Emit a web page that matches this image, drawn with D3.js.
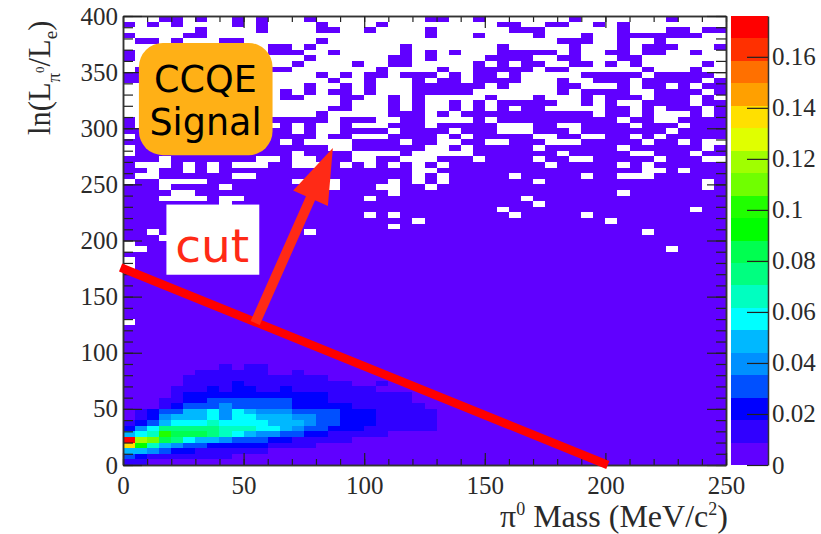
<!DOCTYPE html>
<meta charset="utf-8">
<style>
html, body { margin: 0; background: #fff; }
svg { display: block; }
text { font-family: "Liberation Serif", serif; fill: #2a2a2a; }
.tick text { font-size: 25px; }
.axis path { stroke: #333; stroke-width: 1.5px; }
.axis line { stroke: #222; stroke-width: 1.2px; }
text.note { font-family: "DejaVu Sans", sans-serif; }
</style>
<svg width="821" height="534"></svg>
<script src="https://cdnjs.cloudflare.com/ajax/libs/d3/7.8.5/d3.min.js"></script>
<script>
// bins are 5 x 5 (MeV/c2, ln ratio): 50 columns, 80 rows, row 0 is the top of the plot
const nCols = 50, nRows = 80;
const binMax = 0.176;

const palette = ['#6000ff', '#3000ff', '#0000ff', '#0050ff', '#0090ff', '#00b8ff', '#00ffff', '#00ffc0', '#00ff80', '#00ff50',
  '#00ff00', '#20ff00', '#70ff00', '#a0ff00', '#e0ff00', '#ffe000', '#ffa000', '#ff7000', '#ff3000', '#ff0000'];

const xTicks = [0, 50, 100, 150, 200, 250];
const yTicks = [0, 50, 100, 150, 200, 250, 300, 350, 400];
const zTicks = [0, 0.02, 0.04, 0.06, 0.08, 0.1, 0.12, 0.14, 0.16];

// sparse rows at the top: columns which have any content
const filledTop = [
  [3, 4, 6, 9, 11, 15, 25, 26, 29, 37, 45],
  [0, 2, 4, 9, 11, 16, 21, 31, 32, 35, 36, 39, 41],
  [6, 11, 16, 17, 20, 25, 32, 33, 34, 41, 45, 46, 48, 49],
  [0, 5, 6, 25, 29, 34, 38, 41, 42, 43, 44, 45, 46, 47],
  [1, 2, 4, 8, 9, 16, 36, 37, 38, 41, 44],
  [12, 13, 15, 23, 31, 37, 41, 43, 44, 45, 49],
  [0, 12, 13, 14, 17, 23, 25, 27, 31, 32, 33, 34, 35, 37, 40, 41, 43, 44, 47],
  [0, 15, 22, 23, 25, 30, 31, 32, 33, 36, 37, 41, 42],
  [14, 19, 22, 23, 29, 31, 33, 34, 37, 38, 40, 42, 48],
  [1, 12, 13, 21, 26, 29, 30, 31, 32, 33, 35, 36, 43, 47],
  [0, 1, 16, 18, 20, 21, 23, 24, 25, 27, 29, 30, 32, 38, 39, 40, 41, 42, 44, 45, 46, 47, 48],
  [0, 1, 17, 20, 24, 26, 27, 29, 30, 31, 32, 36, 39, 40, 41, 43, 44, 45, 46, 47, 49],
  [15, 18, 20, 24, 25, 26, 27, 28, 29, 31, 36, 37, 41, 43, 44, 46, 48, 49],
  [13, 15, 17, 18, 20, 24, 25, 26, 27, 28, 36, 38, 39, 40, 41, 44, 45, 46, 47, 49],
  [13, 14, 18, 19, 22, 24, 30, 34, 38, 40, 41, 42, 44, 45, 46, 48],
  [18, 22, 24, 27, 29, 31, 32, 33, 34, 35, 38, 40, 43, 44, 45, 46, 48, 49],
  [17, 18, 22, 24, 27, 29, 31, 33, 34, 40, 41, 43, 45, 46, 47, 49],
  [16, 22, 23, 24, 26, 28, 29, 30, 31, 32, 33, 34, 35, 36, 37, 38, 40, 41, 43, 47, 49],
  [0, 12, 13, 14, 15, 16, 18, 19, 20, 23, 24, 29, 31, 32, 33, 34, 35, 36, 37, 38, 39, 40, 42, 43, 46, 47, 48, 49],
  [0, 13, 15, 18, 22, 23, 24, 26, 27, 28, 29, 30, 34, 35, 38, 39, 40, 41, 43, 44, 45, 47, 48, 49]
];

// further down nearly everything has content: [row, empty columns]
const emptyLow = [
  [20, [14, 16, 17, 22, 27, 31, 32, 33, 37, 45]],
  [21, [0, 16, 19, 20, 21, 26, 28, 34, 35, 38, 39, 42, 44]],
  [22, [13, 15, 16, 17, 18, 23, 26, 27, 30, 31, 35, 36, 37, 43, 46, 48, 49]],
  [23, [0, 17, 18, 25, 26, 28, 34, 41, 48]],
  [24, [0, 14, 19, 20, 21, 22, 24, 25, 26, 27, 28, 36, 42, 43, 47]],
  [25, [3, 11, 12, 14, 15, 19, 20, 23, 24, 25, 29, 34, 37, 38, 44, 48, 49]],
  [26, [1, 2, 3, 5, 7, 9, 10, 11, 14, 15, 16, 18, 20, 22, 24, 26, 35, 41, 43]],
  [27, [2, 5, 7, 16, 24, 25, 43, 44, 46]],
  [28, [1, 2, 9, 10, 24, 26, 32, 38, 41, 42, 43]],
  [29, [0, 3, 4, 5, 6, 14, 15, 17, 22, 24, 26, 34, 48]],
  [30, [3, 8, 15, 17, 21, 22, 25, 48]],
  [31, [4, 5, 22, 41]],
  [32, [3, 4, 5, 6, 8, 9, 20, 33]],
  [33, [8, 34]],
  [34, [31, 47]],
  [35, [20, 22, 32, 38]],
  [36, [24, 40]],
  [37, [22]],
  [38, [2, 15, 43]],
  [39, [3]],
  [40, [0]],
  [41, [0, 1, 45]],
  [43, [0]],
  [44, [0]],
  [54, [0]]
];

// colour levels of the blob, lowest y bin first, each list starts at column 0
const blobLevels = [
  [1, 1],
  [3, 2, 1, 1, 1, 1, 1, 1, 1],
  [5, 5, 4, 3, 2, 2, 1, 1, 1, 1, 1, 1],
  [15, 10, 7, 5, 4, 3, 3, 2, 2, 2, 2, 2, 1, 1, 1, 1],
  [19, 13, 12, 9, 8, 6, 5, 5, 4, 3, 3, 3, 2, 2, 1, 1, 1, 1, 1],
  [5, 6, 7, 11, 9, 9, 9, 8, 7, 6, 5, 4, 4, 3, 3, 2, 2, 1, 1, 1, 1, 1],
  [2, 4, 6, 8, 8, 8, 8, 8, 7, 7, 7, 6, 6, 5, 4, 3, 3, 2, 2, 2, 1, 1, 1, 1, 1, 1],
  [1, 2, 3, 5, 6, 6, 6, 7, 6, 6, 6, 6, 5, 5, 5, 4, 3, 3, 2, 2, 2, 1, 1, 1, 1, 1],
  [0, 1, 2, 4, 5, 5, 5, 6, 4, 6, 6, 5, 5, 5, 4, 4, 3, 3, 2, 2, 2, 1, 1, 1, 1, 1],
  [0, 1, 2, 3, 3, 5, 5, 6, 4, 6, 5, 4, 4, 4, 3, 3, 3, 3, 2, 2, 2, 1, 1, 1, 1, 1],
  [0, 0, 0, 1, 2, 3, 3, 3, 4, 3, 3, 3, 3, 3, 2, 2, 2, 2, 2, 1, 1, 1, 1, 1, 1],
  [0, 0, 0, 1, 1, 2, 2, 3, 3, 3, 3, 3, 3, 3, 2, 2, 2, 1, 1, 1, 1, 1, 1, 1],
  [0, 0, 0, 0, 1, 2, 2, 2, 2, 2, 2, 2, 2, 2, 2, 2, 2, 1, 1, 1, 1, 1, 1, 1],
  [0, 0, 0, 0, 1, 1, 1, 2, 1, 2, 2, 1, 1, 2, 1, 1, 1, 1, 1, 1, 1],
  [0, 0, 0, 0, 0, 1, 1, 1, 1, 2, 1, 1, 1, 1, 1, 1, 1, 1, 1, 0, 0, 1],
  [0, 0, 0, 0, 0, 1, 1, 1, 1, 1, 1, 1, 1, 1, 1, 1, 1],
  [0, 0, 0, 0, 0, 0, 1, 1, 1, 1, 1, 1, 0, 0, 1],
  [0, 0, 0, 0, 0, 0, 0, 0, 1, 0, 1, 1]
];

// cut line and arrow, in data coordinates
const cutLine = [[-1, 176], [201, 0]];
const arrowFrom = [54.8, 126.5];
const arrowTip = [87, 282.4];

const svg = d3.select('svg');
const plot = { left: 123, right: 726, top: 16, bottom: 465 };
const bar = { left: 731, right: 768 };

const x = d3.scaleLinear().domain([0, 250]).range([plot.left, plot.right]);
const y = d3.scaleLinear().domain([0, 400]).range([plot.bottom, plot.top]);
const z = d3.scaleLinear().domain([0, binMax]).range([plot.bottom, plot.top]);
const color = d3.scaleQuantize().domain([0, binMax]).range(palette);

// level -> bin content, null is an empty bin
const levelValue = l => (l + 0.5) * binMax / palette.length;
const bins = d3.range(nRows).map(() => d3.range(nCols).map(() => levelValue(0)));
filledTop.forEach((cols, r) => {
  bins[r] = d3.range(nCols).map(c => (cols.includes(c) ? levelValue(0) : null));
});
emptyLow.forEach(([r, cols]) => cols.forEach(c => { bins[r][c] = null; }));
blobLevels.forEach((levels, i) => levels.forEach((l, c) => {
  bins[nRows - 1 - i][c] = levelValue(l);
}));

const cells = [];
bins.forEach((row, r) => row.forEach((v, c) => {
  if (v !== null) cells.push({ r, c, v });
}));

svg.append('g')
  .attr('shape-rendering', 'crispEdges')
  .selectAll('rect')
  .data(cells)
  .join('rect')
  .attr('x', d => x(d.c * 5))
  .attr('width', d => x((d.c + 1) * 5) - x(d.c * 5))
  .attr('y', d => y(400 - d.r * 5))
  .attr('height', d => y(400 - (d.r + 1) * 5) - y(400 - d.r * 5))
  .attr('fill', d => color(d.v));

// colour bar
svg.append('g')
  .attr('shape-rendering', 'crispEdges')
  .selectAll('rect')
  .data(palette)
  .join('rect')
  .attr('x', bar.left)
  .attr('width', bar.right - bar.left)
  .attr('y', (d, i) => z((i + 1) * binMax / palette.length))
  .attr('height', z(0) - z(binMax / palette.length))
  .attr('fill', d => d);

// axes, ticks point inside on all four sides
const minorX = d3.range(0, 251, 10);
const minorY = d3.range(0, 401, 10);
const noLabel = () => '';

function addAxis(axis, tx, ty) {
  return svg.append('g')
    .attr('class', 'axis')
    .attr('transform', `translate(${tx},${ty})`)
    .call(axis);
}

addAxis(d3.axisBottom(x).tickValues(minorX).tickSize(-6).tickSizeOuter(0).tickFormat(noLabel), 0, plot.bottom);
addAxis(d3.axisTop(x).tickValues(minorX).tickSize(-6).tickSizeOuter(0).tickFormat(noLabel), 0, plot.top);
addAxis(d3.axisLeft(y).tickValues(minorY).tickSize(-10).tickSizeOuter(0).tickFormat(noLabel), plot.left, 0);
addAxis(d3.axisRight(y).tickValues(minorY).tickSize(-10).tickSizeOuter(0).tickFormat(noLabel), plot.right, 0);

addAxis(d3.axisTop(x).tickValues(xTicks).tickSize(-12).tickSizeOuter(0).tickFormat(noLabel), 0, plot.top);
addAxis(d3.axisRight(y).tickValues(yTicks).tickSize(-19).tickSizeOuter(0).tickFormat(noLabel), plot.right, 0);
addAxis(d3.axisBottom(x).tickValues(xTicks).tickSize(-12).tickSizeOuter(0).tickFormat(d3.format('d')), 0, plot.bottom)
  .selectAll('text').attr('dy', '0.98em').attr('y', 4);
addAxis(d3.axisLeft(y).tickValues(yTicks).tickSize(-19).tickSizeOuter(0).tickPadding(5).tickFormat(d3.format('d')), plot.left, 0);

addAxis(d3.axisRight(z).tickValues(zTicks).tickSize(-21).tickSizeOuter(0).tickPadding(4).tickFormat(d3.format('')), bar.right, 0);

// axis titles
const xTitle = svg.append('text').attr('x', 500).attr('y', 527).attr('font-size', 32);
xTitle.append('tspan').text('π');
xTitle.append('tspan').attr('dy', -12).attr('font-size', 18).text('0');
xTitle.append('tspan').attr('dy', 12).text(' Mass (MeV/c');
xTitle.append('tspan').attr('dy', -12).attr('font-size', 18).text('2');
xTitle.append('tspan').attr('dy', 12).text(')');

const yTitle = svg.append('text').attr('transform', 'translate(50,135) rotate(-90)').attr('font-size', 30.5);
yTitle.append('tspan').text('ln(L');
yTitle.append('tspan').attr('dy', 10).attr('font-size', 19).text('π');
yTitle.append('tspan').attr('dy', -16).attr('font-size', 13).text('0');
yTitle.append('tspan').attr('dy', 6).text('/L');
yTitle.append('tspan').attr('dy', 7).attr('font-size', 19).text('e');
yTitle.append('tspan').attr('dy', -7).text(')');

// annotations
svg.append('line')
  .attr('x1', x(cutLine[0][0])).attr('y1', y(cutLine[0][1]))
  .attr('x2', x(cutLine[1][0])).attr('y2', y(cutLine[1][1]))
  .attr('stroke', '#ff0000')
  .attr('stroke-width', 8.5);

const ax0 = x(arrowFrom[0]), ay0 = y(arrowFrom[1]);
const ax1 = x(arrowTip[0]), ay1 = y(arrowTip[1]);
const len = Math.hypot(ax1 - ax0, ay1 - ay0);
const ux = (ax1 - ax0) / len, uy = (ay1 - ay0) / len;
const headLen = 55, headHalf = 19, shaftHalf = 5;
const along = (d, s) => [ax0 + ux * d - uy * s, ay0 + uy * d + ux * s];
svg.append('path')
  .attr('d', d3.line()([
    along(0, -shaftHalf), along(len - headLen, -shaftHalf), along(len - headLen, -headHalf), [ax1, ay1],
    along(len - headLen, headHalf), along(len - headLen, shaftHalf), along(0, shaftHalf)
  ]) + 'Z')
  .attr('fill', '#ff2a16');

svg.append('rect')
  .attr('x', x(18)).attr('y', y(232))
  .attr('width', x(56.5) - x(18)).attr('height', y(169.5) - y(232))
  .attr('fill', '#fff');
svg.append('text')
  .attr('class', 'note')
  .attr('x', x(37)).attr('y', y(181))
  .attr('text-anchor', 'middle')
  .attr('font-size', 47)
  .style('fill', '#ff2a16')
  .text('cut');

svg.append('rect')
  .attr('x', x(6.6)).attr('y', y(376))
  .attr('width', x(62) - x(6.6)).attr('height', y(276) - y(376))
  .attr('rx', 24)
  .attr('fill', '#ffb016');
const ccqe = svg.append('g').attr('text-anchor', 'middle').attr('font-size', 36.5);
ccqe.append('text').attr('class', 'note').attr('x', x(34.2)).attr('y', y(332.5)).style('fill', '#000').text('CCQE');
ccqe.append('text').attr('class', 'note').attr('x', x(34.2)).attr('y', y(294)).style('fill', '#000').text('Signal');
</script>
